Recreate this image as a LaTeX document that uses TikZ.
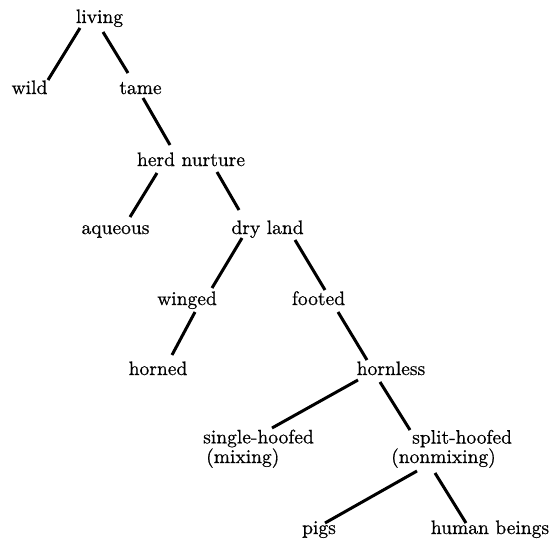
\documentclass[tikz,border=0pt]{standalone}
\usepackage{fontspec}
\setmainfont{lmroman10-regular.otf}[FakeBold=0.6]
% branch from one term to another, each end given as an offset from an anchor of the term
\newcommand\branchline[4]{\draw[branch] ([shift={(#2)}]#1) -- ([shift={(#4)}]#3);}
\begin{document}
\begin{tikzpicture}[x=1pt,y=-1pt,
  term/.style={font=\fontsize{19.5}{18}\selectfont, inner sep=0pt, anchor=base},
  pair/.style={term, anchor=base west, align=left},
  branch/.style={line width=3pt}]
\useasboundingbox (0,0) rectangle (554,546);

\node[term] (living)   at (99.5,23)  {living};
\node[term] (wild)     at (29.5,94)  {wild};
\node[term] (tame)     at (140.5,94) {tame};
\node[term] (herd)     at (191,166)  {herd nurture};
\node[term] (aqueous)  at (115.5,234) {aqueous};
\node[term] (dryland)  at (267.5,234) {dry land};
\node[term] (winged)   at (187,305)  {winged};
\node[term] (footed)   at (318.5,305) {footed};
\node[term] (horned)   at (158,375)  {horned};
\node[term] (hornless) at (391,375)  {hornless};
% two-line terms: the base anchor sits on the second line
\node[pair] (single)   at (203,463)  {single-hoofed\\\hspace*{3pt}(mixing)};
\node[pair] (split)    at (391,463)  {\hspace*{21pt}split-hoofed\\(nonmixing)};
\node[term] (pigs)     at (319,534)  {pigs};
\node[term] (human)    at (490,534)  {human beings};

\branchline{living.base}{-19.5,5}{wild.base}{18.5,-14}
\branchline{living.base}{3.5,9}{tame.base}{-12.5,-21}
\branchline{tame.base}{2.5,4}{herd.base}{-21,-21}
\branchline{herd.base}{-34,7}{aqueous.base}{14.5,-17}
\branchline{herd.base}{26,6}{dryland.base}{-28.5,-24}
\branchline{dryland.base}{-25.5,4}{winged.base}{25,-17}
\branchline{dryland.base}{27.5,6}{footed.base}{6.5,-15}
\branchline{winged.base}{8,7}{horned.base}{14,-20}
\branchline{footed.base}{19.5,7}{hornless.base}{-24,-15}
\branchline{hornless.base}{-33,5}{single.base west}{69,-35}
\branchline{hornless.base}{-11,7}{split.base west}{19,-33}
\branchline{split.base west}{26,8}{pigs.base}{6,-11}
\branchline{split.base west}{44,10}{human.base}{-24,-11}
\end{tikzpicture}
\end{document}
